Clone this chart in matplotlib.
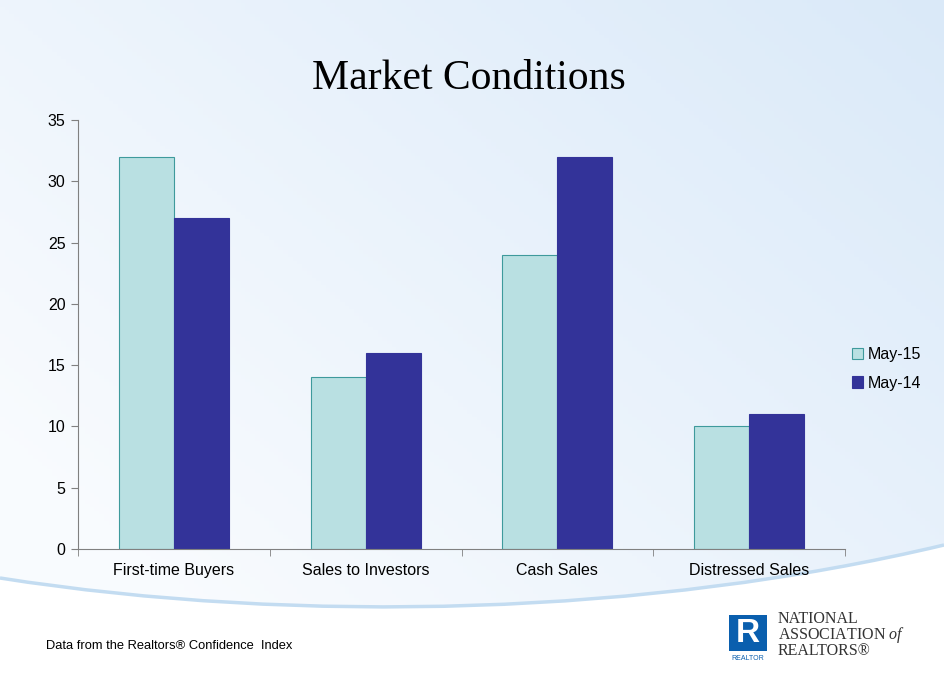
import numpy as np
import matplotlib.pyplot as plt
from matplotlib.patches import Rectangle, PathPatch
from matplotlib.path import Path

plt.rcParams['mathtext.fontset'] = 'custom'
plt.rcParams['mathtext.it'] = 'Liberation Serif:italic'

categories = ['First-time Buyers', 'Sales to Investors', 'Cash Sales', 'Distressed Sales']
may_15 = [32, 14, 24, 10]
may_14 = [27, 16, 32, 11]
series_labels = ['May-15', 'May-14']

W, H = 944, 695
fig = plt.figure(figsize=(W / 100, H / 100), dpi=100)

# background gradient (pixel coordinates)
bg = fig.add_axes([0, 0, 1, 1])
bg.set_xlim(0, W)
bg.set_ylim(H, 0)
bg.axis('off')
xx, yy = np.meshgrid(np.linspace(0, 1, 200), np.linspace(0, 1, 200))
t = np.clip(0.65 * xx + 0.55 * (1 - yy) - 0.2, 0, 1)
c0 = np.array([0.975, 0.985, 0.997])
c1 = np.array([0.855, 0.915, 0.975])
img = c0 + (c1 - c0) * t[..., None]
bg.imshow(img, extent=[0, W, H, 0], aspect='auto', zorder=0)

# white swoosh at the bottom
verts = [(0, 578), (300, 625), (650, 615), (944, 545), (944, H), (0, H), (0, 578)]
codes = [Path.MOVETO, Path.CURVE4, Path.CURVE4, Path.CURVE4, Path.LINETO, Path.LINETO, Path.CLOSEPOLY]
bg.add_patch(PathPatch(Path(verts, codes), facecolor='white', edgecolor='none', zorder=1))
line = Path(verts[:4], codes[:4])
bg.add_patch(PathPatch(line, facecolor='none', edgecolor='#c3dcf1', lw=2.5, zorder=2))

# logo
bg.add_patch(Rectangle((729, 615), 38, 36, facecolor='#0a5fae', edgecolor='none', zorder=3))
bg.text(748, 633, 'R', color='white', fontsize=24, fontweight='bold', ha='center', va='center',
        family='Liberation Sans', zorder=4)
bg.text(748, 659, 'REALTOR', color='#0a5fae', fontsize=5, ha='center', va='center',
        family='Liberation Sans', zorder=4)
bg.text(778, 635, 'NATIONAL\nASSOCIATION $\\mathit{of}$\nREALTORS®', fontsize=11.5,
        family='Liberation Serif', color='#333333', va='center', linespacing=0.82, zorder=4)

bg.text(469, 79, 'Market Conditions', fontsize=30, family='Liberation Serif', ha='center', va='center', zorder=4)
bg.text(46, 646, 'Data from the Realtors® Confidence  Index', fontsize=9.3, family='Liberation Sans',
        va='center', zorder=4)

# chart
ax = fig.add_axes([78 / W, 1 - 549 / H, 767 / W, 429 / H])
ax.patch.set_alpha(0)
x = np.arange(len(categories))
w = 0.287
ax.bar(x - w / 2, may_15, w, color='#b9e0e2', edgecolor='#3e9a9c', linewidth=0.8, label=series_labels[0])
ax.bar(x + w / 2, may_14, w, color='#333399', edgecolor='#333399', linewidth=0.8, label=series_labels[1])
ax.set_xlim(-0.5, len(categories) - 0.5)
ax.set_ylim(0, 35)
ax.set_yticks(range(0, 36, 5))
ax.set_xticks(x)
ax.set_xticklabels(categories)
ax.set_xticks(np.arange(-0.5, len(categories), 1), minor=True)
ax.tick_params(axis='x', which='major', length=0, pad=10)
ax.tick_params(axis='x', which='minor', length=5, color='#808080', direction='out')
ax.tick_params(axis='y', length=5, color='#808080', direction='out', pad=4)
for lbl in ax.get_xticklabels() + ax.get_yticklabels():
    lbl.set_family('Liberation Sans')
    lbl.set_fontsize(11.5)
for s in ['top', 'right']:
    ax.spines[s].set_visible(False)
for s in ['left', 'bottom']:
    ax.spines[s].set_color('#808080')

ax.legend(loc='center left', bbox_to_anchor=(0.99, 0.42), frameon=False,
          prop={'family': 'Liberation Sans', 'size': 11.5},
          handlelength=0.7, handleheight=0.7, handletextpad=0.3, labelspacing=0.85)

fig.savefig('out.png', dpi=100)
